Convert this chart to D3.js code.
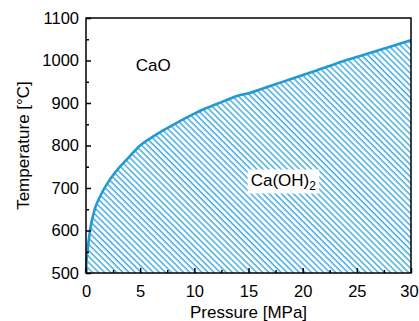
<!DOCTYPE html>
<html>
<head>
<meta charset="utf-8">
<script src="https://d3js.org/d3.v7.min.js"></script>
<style>
  html, body { margin: 0; padding: 0; background: #fff; }
  svg { display: block; font-family: "Liberation Sans", Arial, sans-serif; }
</style>
</head>
<body>
<div id="chart"></div>
<script>
// boundary curve
const pressure = [0, 0.05, 0.12, 0.37, 0.83, 1.3, 2, 2.5, 3, 3.8, 5, 6, 7, 8, 9, 10, 11, 12, 13, 14, 15, 17, 19, 21, 23, 25.6, 28, 30];
const temperature = [500, 530, 548, 600, 652, 680, 712, 730, 746, 768, 800, 818, 834, 848, 862, 875, 887, 897, 907, 917, 923, 940, 957, 974, 992, 1013, 1032, 1048];
const xTicks = [0, 5, 10, 15, 20, 25, 30];
const yTicks = [500, 600, 700, 800, 900, 1000, 1100];

const width = 419, height = 321;
const margin = { top: 18, right: 8, bottom: 48, left: 86 };
const innerW = width - margin.left - margin.right;
const innerH = height - margin.top - margin.bottom;
const blue = "#1f9ad6";

const svg = d3.select("#chart").append("svg")
  .attr("width", width)
  .attr("height", height);

// hatch pattern
const defs = svg.append("defs");
defs.append("pattern")
  .attr("id", "hatch")
  .attr("patternUnits", "userSpaceOnUse")
  .attr("width", 4.3)
  .attr("height", 10)
  .attr("patternTransform", "rotate(-45)")
  .append("line")
  .attr("x1", 1).attr("y1", 0)
  .attr("x2", 1).attr("y2", 10)
  .attr("stroke", "#3aa9e2")
  .attr("stroke-width", 1.4);

const g = svg.append("g").attr("transform", `translate(${margin.left},${margin.top})`);

const x = d3.scaleLinear().domain([0, 30]).range([0, innerW]);
const y = d3.scaleLinear().domain([500, 1100]).range([innerH, 0]);

const pts = pressure.map((p, i) => [p, temperature[i]]);

const area = d3.area()
  .x(d => x(d[0]))
  .y0(innerH)
  .y1(d => y(d[1]))
  .curve(d3.curveMonotoneX);

const line = d3.line()
  .x(d => x(d[0]))
  .y(d => y(d[1]))
  .curve(d3.curveMonotoneX);

g.append("path").attr("d", area(pts)).attr("fill", "url(#hatch)");

// labels
g.append("text")
  .attr("x", x(4.6)).attr("y", y(1000) + 10)
  .attr("font-size", 17).attr("fill", "#000")
  .text("CaO");

const lab = g.append("g");
const labBg = lab.append("rect").attr("fill", "#fff");
const labText = lab.append("text")
  .attr("x", x(15.2)).attr("y", y(720) + 6)
  .attr("font-size", 17).attr("fill", "#000");
labText.append("tspan").text("Ca(OH)");
labText.append("tspan").attr("font-size", 12).attr("dy", 4).text("2");
const bb = labText.node().getBBox();
labBg.attr("x", bb.x - 3).attr("y", bb.y - 1).attr("width", bb.width + 6).attr("height", bb.height + 2);

g.append("path").attr("d", line(pts))
  .attr("fill", "none").attr("stroke", blue).attr("stroke-width", 2.6);

// frame
g.append("rect")
  .attr("width", innerW).attr("height", innerH)
  .attr("fill", "none").attr("stroke", "#000").attr("stroke-width", 1.5);

// axes with inward ticks
const xAxis = g.append("g").attr("transform", `translate(0,${innerH})`)
  .call(d3.axisBottom(x).tickValues(xTicks).tickFormat(d3.format("d"))
    .tickSizeInner(-5).tickSizeOuter(0).tickPadding(12));
xAxis.append("g").call(d3.axisBottom(x).tickValues(d3.range(2.5, 30, 5)).tickSize(-3).tickFormat(""));

const yAxis = g.append("g")
  .call(d3.axisLeft(y).tickValues(yTicks).tickFormat(d3.format("d"))
    .tickSizeInner(-5).tickSizeOuter(0).tickPadding(7));
yAxis.append("g").call(d3.axisLeft(y).tickValues(d3.range(550, 1100, 100)).tickSize(-3).tickFormat(""));

g.selectAll(".domain").remove();
g.selectAll(".tick line").attr("stroke", "#000").attr("stroke-width", 1.5);
g.selectAll(".tick text")
  .attr("font-size", 16.5)
  .attr("fill", "#000")
  .attr("font-family", "'Liberation Sans', Arial, sans-serif");
// keep the last x label inside the window
xAxis.selectAll(".tick text").filter(d => d === 30).attr("dx", -2);

// axis titles
svg.append("text")
  .attr("x", margin.left + innerW / 2).attr("y", 318)
  .attr("text-anchor", "middle").attr("font-size", 17)
  .text("Pressure [MPa]");

svg.append("text")
  .attr("transform", `translate(29,${margin.top + innerH / 2}) rotate(-90)`)
  .attr("text-anchor", "middle").attr("font-size", 17)
  .text("Temperature [°C]");
</script>
</body>
</html>
